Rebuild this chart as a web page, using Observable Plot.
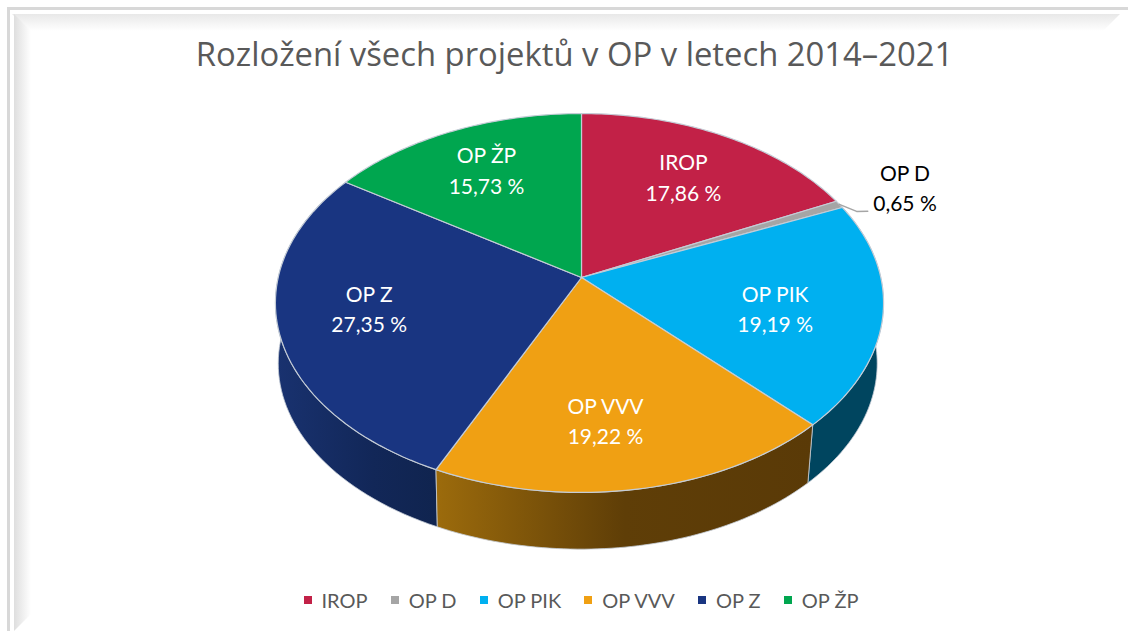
<!DOCTYPE html>
<html lang="cs">
<head>
<meta charset="utf-8">
<script src="https://cdn.jsdelivr.net/npm/d3@7"></script>
<script src="https://cdn.jsdelivr.net/npm/@observablehq/plot@0.6"></script>
<style>
  html, body { margin: 0; padding: 0; background: #fff; overflow: hidden; }
  #page { position: relative; width: 1128px; height: 631px; overflow: hidden; }
  #title { height: 85px; box-sizing: border-box; padding-top: 32px; width: 1149px; text-align: center;
           font: 32.8px/44px "Open Sans", sans-serif; color: #595959; white-space: nowrap; }
  #chart svg { display: block; }
  #legend { height: 50px; display: flex; justify-content: center; align-items: center; gap: 23.2px;
            font: 20px Lato, sans-serif; color: #595959; padding-left: 34px; box-sizing: border-box; width: 1128px; }
  #legend span.item { display: flex; align-items: center; gap: 10px; }
  #legend i { display: block; width: 8px; height: 8px; }
  .edge { position: absolute; pointer-events: none; }
</style>
</head>
<body>
<div id="page">
  <div id="title"></div>
  <div id="chart"></div>
  <div id="legend"></div>
  <div class="edge" style="left:7px;top:7px;width:1121px;height:3px;background:#d8d8d8"></div>
  <div class="edge" style="left:7px;top:7px;width:3px;height:624px;background:#d8d8d8"></div>
  <div class="edge" style="left:12px;top:14px;width:1108px;height:17px;background:linear-gradient(#e8e8e8,#ffffff);clip-path:polygon(0 0,100% 0,calc(100% - 17px) 100%,17px 100%)"></div>
  <div class="edge" style="left:14px;top:14px;width:17px;height:617px;background:linear-gradient(90deg,#dedede,#ffffff);clip-path:polygon(0 0,100% 17px,100% calc(100% - 17px),0 100%)"></div>
</div>
<script>
// Data
const titleText = "Rozložení všech projektů v OP v letech 2014–2021";
const names  = ["IROP", "OP D", "OP PIK", "OP VVV", "OP Z", "OP ŽP"];
const shares = [17.86, 0.65, 19.19, 19.22, 27.35, 15.73];
const colors = ["#c22147", "#a5a5a5", "#00b0f0", "#f0a013", "#193581", "#00a64f"];
const textColors = ["#fff", "#000", "#fff", "#fff", "#fff", "#fff"];
// Label placement relative to the slice middle: radius fraction and extra turn in degrees
const labelRadius = [0.68, 1.26, 0.655, 0.709, 0.705, 0.704];
const labelTurn   = [0.5, 0.9, 4.1, 3.8, 1.8, -0.5];
// Leader of the outer label: radius fraction and extra turn
const leaderRadius = [1.0, 1.035, 1.072];
const leaderTurn   = [0, 3.4, 4.1];

const titleHeight = 85, svgHeight = 490;
// Perspective view of the tilted disc
const top3d = {x0: 581, y0: 277 - titleHeight, aLeft: 303.3, aRight: 299.3, b: 186, p: 0.1346};
const low3d = {x0: 581, y0: 338 - titleHeight, aLeft: 300.5, aRight: 293, b: 182.3, p: 0.1346};
const project = (deg, r, v) => {
  const t = deg * Math.PI / 180, c = r * Math.cos(t), d = 1 + v.p * c, sx = Math.sin(t);
  return [v.x0 + (sx < 0 ? v.aLeft : v.aRight) * r * sx / d, v.y0 - v.b * c / d];
};
const arc = (from, to, v) => d3.range(0, 61).map(i => project(from + (to - from) * i / 60, 1, v));

let acc = 0;
const slices = names.map((name, i) => {
  const start = acc * 3.6; acc += shares[i]; const end = acc * 3.6;
  return {name, start, end, mid: (start + end) / 2, share: shares[i], text: textColors[i], i};
});

const tops = slices.flatMap(s => {
  const ring = [[top3d.x0, top3d.y0], ...arc(s.start, s.end, top3d), [top3d.x0, top3d.y0]];
  return ring.map(([x, y]) => ({name: s.name, x, y}));
});
const wall = i => {
  const s = slices[i];
  const up = arc(s.start, s.end, top3d), lo = arc(s.start, s.end, low3d).reverse();
  return [...up, ...lo, up[0]].map(([x, y]) => ({x, y}));
};
const labels = slices.map(s => {
  const [x, y] = project(s.mid + labelTurn[s.i], labelRadius[s.i], top3d);
  return {x, y, text: `${s.name}\n${s.share.toFixed(2).replace(".", ",")} %`, fill: s.text};
});
const leader = leaderRadius.map((r, k) => {
  const [x, y] = project(slices[1].mid + leaderTurn[k], r, top3d);
  return {x, y};
});
const pick = {x: "x", y: "y"};
const edge = "#c4ccd6";

const plot = Plot.plot({
  width: 1128, height: svgHeight, margin: 0,
  style: {background: "transparent"},
  x: {domain: [0, 1128], range: [0, 1128], axis: null},
  y: {domain: [0, svgHeight], range: [0, svgHeight], axis: null},
  color: {domain: names, range: colors},
  marks: [
    Plot.line(wall(2), {...pick, fill: "#00455f", stroke: edge, strokeWidth: 0.8}),
    Plot.line(wall(4), {...pick, fill: "url(#wallZ)", stroke: edge, strokeWidth: 0.8}),
    Plot.line(wall(3), {...pick, fill: "url(#wallVVV)", stroke: edge, strokeWidth: 0.8}),
    Plot.line(tops, {...pick, z: "name", fill: "name", stroke: edge, strokeWidth: 1.2}),
    Plot.line(leader, {...pick, stroke: "#a5a5a5", strokeWidth: 1.5}),
    Plot.text(labels, {...pick, text: "text", fill: "fill", fontSize: 21, lineHeight: 1.45, dy: -3, fontFamily: "Lato, sans-serif"})
  ]
});
const defs = d3.create("svg:defs");
const gradient = (id, stops) => {
  const g = defs.append("linearGradient").attr("id", id);
  stops.forEach(([o, c]) => g.append("stop").attr("offset", o).attr("stop-color", c));
};
gradient("wallVVV", [[0, "#9c6b0c"], [0.5, "#5f3e07"], [1, "#5a3a07"]]);
gradient("wallZ", [[0, "#193270"], [0.6, "#122758"], [1, "#10244f"]]);
plot.insertBefore(defs.node(), plot.firstChild);

document.getElementById("title").textContent = titleText;
document.getElementById("chart").append(plot);
d3.select("#legend").selectAll("span.item").data(names).join("span").attr("class", "item")
  .each(function (d, i) {
    d3.select(this).append("i").style("background", colors[i]);
    d3.select(this).append("span").text(d);
  });
</script>
</body>
</html>
